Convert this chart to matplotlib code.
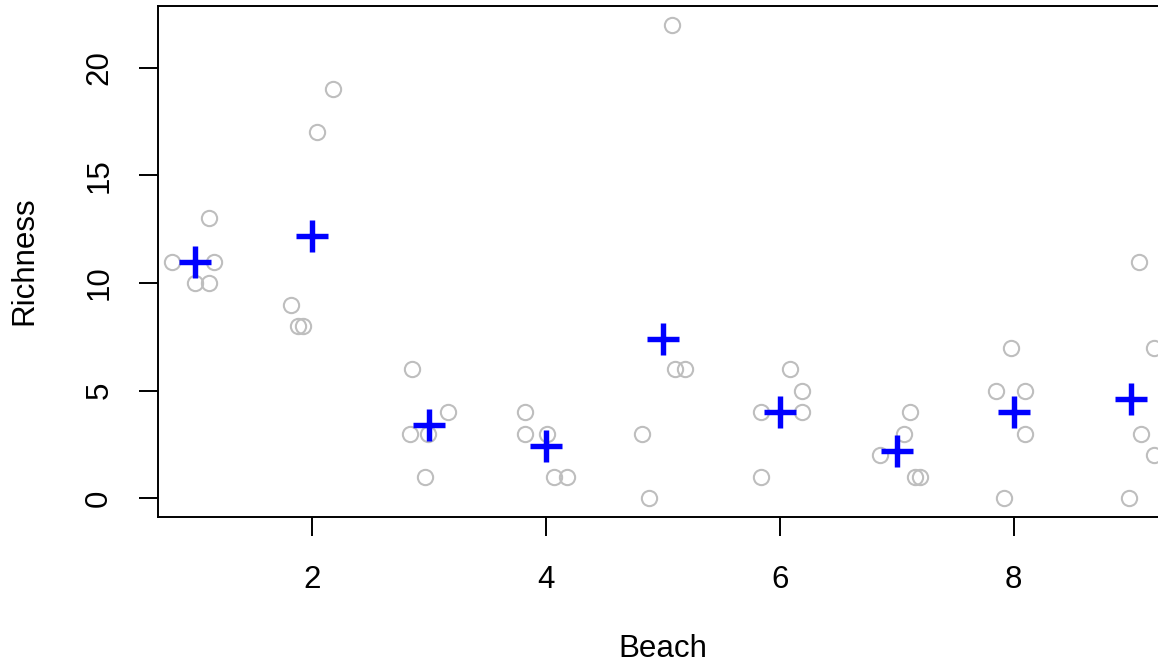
import numpy as np
import matplotlib
matplotlib.use("Agg")
import matplotlib.pyplot as plt

plt.rcParams['font.family'] = ['Liberation Sans', 'DejaVu Sans']

# jittered beach positions and richness for each sample
beach_x = [0.80, 1.00, 1.12, 1.12, 1.16,
           1.82, 1.88, 1.92, 2.04, 2.18,
           2.85, 2.84, 2.99, 2.96, 3.16,
           3.82, 3.82, 4.01, 4.07, 4.18,
           4.82, 4.88, 5.08, 5.10, 5.19,
           5.84, 5.84, 6.09, 6.19, 6.19,
           6.86, 7.06, 7.11, 7.16, 7.20,
           7.85, 7.92, 7.98, 8.10, 8.10,
           8.99, 9.07, 9.09, 9.20, 9.20]
richness = [11, 10, 10, 13, 11,
            9, 8, 8, 17, 19,
            6, 3, 3, 1, 4,
            4, 3, 3, 1, 1,
            3, 0, 22, 6, 6,
            4, 1, 6, 5, 4,
            2, 3, 4, 1, 1,
            5, 0, 7, 5, 3,
            0, 11, 3, 7, 2]

beaches = [1, 2, 3, 4, 5, 6, 7, 8, 9]
mean_richness = [11.0, 12.2, 3.4, 2.4, 7.4, 4.0, 2.2, 4.0, 4.6]

W, H = 1158, 665
fig = plt.figure(figsize=(W / 100, H / 100), dpi=100)
ax = fig.add_axes([158 / W, (H - 517) / H, (1168 - 158) / W, (517 - 6) / H])

ax.plot(beach_x, richness, linestyle='none', marker='o', markersize=11,
        markerfacecolor='none', markeredgecolor='#BEBEBE', markeredgewidth=1.5)
ax.plot(beaches, mean_richness, linestyle='none', marker='+', markersize=23,
        markeredgecolor='#0000FF', markeredgewidth=3.9)

ax.set_xlim(0.68, 9.32)
ax.set_ylim(-0.88, 22.88)
ax.set_xticks([2, 4, 6, 8])
ax.set_yticks([0, 5, 10, 15, 20])
ax.tick_params(length=13.5, width=1.4, labelsize=22.5, color='black')
ax.tick_params(axis='x', pad=21)
ax.tick_params(axis='y', pad=18, labelrotation=90)
for lab in ax.get_yticklabels():
    lab.set_verticalalignment('center')
for sp in ax.spines.values():
    sp.set_linewidth(1.4)

fig.text(663 / W, 1 / H, 'Beach', ha='center', va='bottom', fontsize=22.5)
fig.text(24 / W, (H - 261) / H, 'Richness', ha='center', va='center',
         rotation=90, fontsize=22.5)

fig.savefig('out.png', dpi=100)
